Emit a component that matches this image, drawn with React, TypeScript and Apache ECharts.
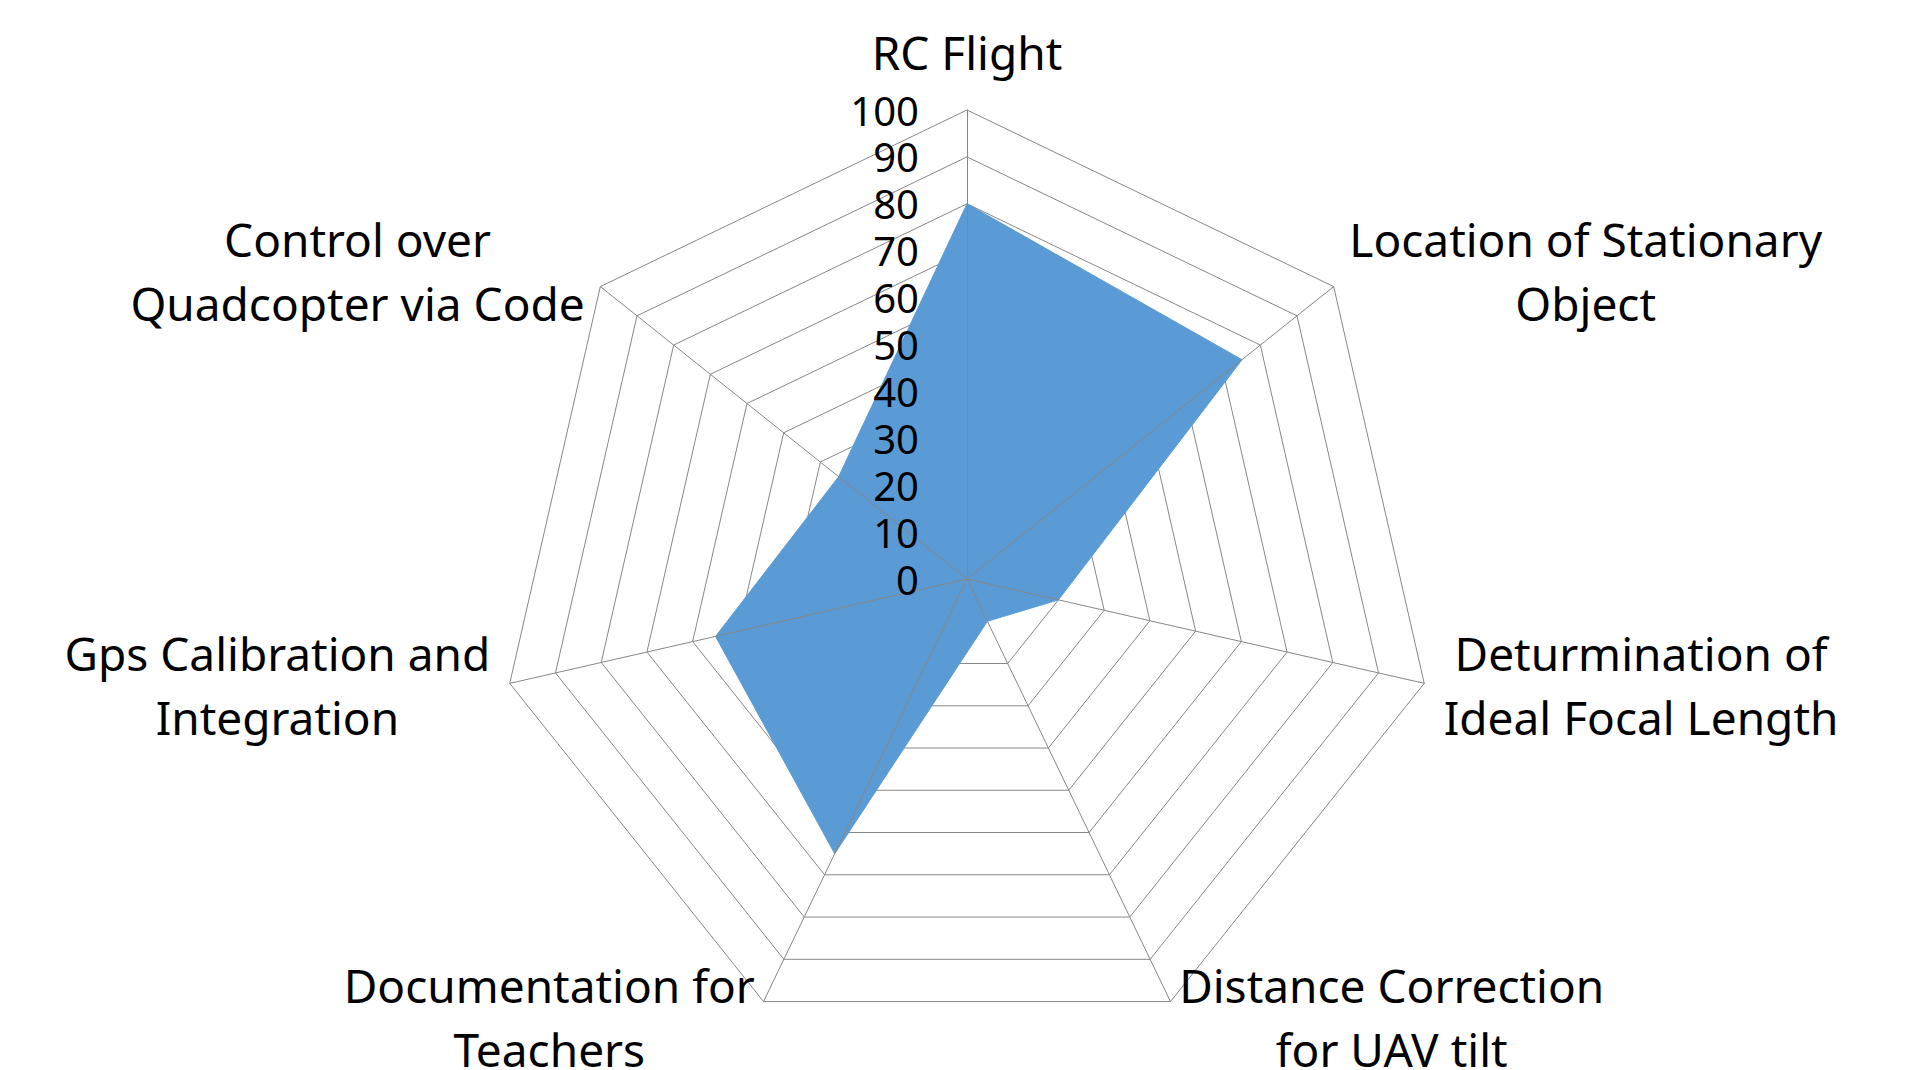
import React, { useEffect, useRef } from "react";
import * as echarts from "echarts";

// Categories in clockwise order starting from the top (as in the reference)
const categories: string[] = [
  "RC Flight",
  "Location of Stationary\nObject",
  "Deturmination of\nIdeal Focal Length",
  "Distance Correction\nfor UAV tilt",
  "Documentation for\nTeachers",
  "Gps Calibration and\nIntegration",
  "Control over\nQuadcopter via Code",
];
const values: number[] = [80, 75, 20, 10, 65, 55, 35];
const axisMin = 0;
const axisMax = 100;
const splitCount = 10;

const FONT = "Noto Sans";
const GRID = "#878787";
const FILL = "#5B9BD5";

// ECharts lays radar indicators counter-clockwise; reorder so they run clockwise.
function clockwiseOrder<T>(arr: T[]): T[] {
  return [arr[0], ...arr.slice(1).reverse()];
}

export default function App() {
  const ref = useRef<HTMLDivElement>(null);
  useEffect(() => {
    if (!ref.current) return;
    const chart = echarts.init(ref.current, undefined, { renderer: "svg" });
    const cats = clockwiseOrder(categories);
    const vals = clockwiseOrder(values);
    const center = [967, 579];
    const radius = 469;

    const baseIndicators = cats.map((c) => ({ name: c, min: axisMin, max: axisMax }));

    chart.setOption({
      animation: false,
      backgroundColor: "#ffffff",
      radar: [
        {
          z: 1,
          center,
          radius,
          shape: "polygon",
          startAngle: 90,
          splitNumber: splitCount,
          indicator: baseIndicators,
          axisName: { show: false },
          axisLine: { show: false },
          axisTick: { show: false },
          axisLabel: { show: false },
          splitLine: { show: true, lineStyle: { color: GRID, width: 1 } },
          splitArea: { show: false },
        },
        {
          z: 3,
          center,
          radius,
          shape: "polygon",
          startAngle: 90,
          splitNumber: splitCount,
          indicator: baseIndicators.map((ind, i) =>
            i === 0 ? { ...ind, axisLabel: { show: true } } : { ...ind }
          ),
          nameGap: 20,
          axisName: {
            show: true,
            color: "#000",
            fontFamily: FONT,
            fontSize: 46,
            lineHeight: 64,
            padding: [0, 0, 6, 0],
            formatter: (name: string) =>
              name
                .split("\n")
                .map((l) => `{c|${l}}`)
                .join("\n"),
            rich: {
              c: {
                align: "center",
                color: "#000",
                fontFamily: FONT,
                fontSize: 46,
                lineHeight: 64,
              },
            },
          },
          axisLine: { show: true, lineStyle: { color: GRID, width: 1 } },
          axisTick: { show: false },
          axisLabel: {
            show: false,
            color: "#000",
            fontFamily: FONT,
            fontSize: 40,
            margin: 48,
            showMinLabel: true,
            showMaxLabel: true,
          },
          splitLine: { show: false },
          splitArea: { show: false },
        },
      ],
      series: [
        {
          type: "radar",
          radarIndex: 0,
          z: 2,
          symbol: "none",
          lineStyle: { color: FILL, width: 1 },
          areaStyle: { color: FILL, opacity: 1 },
          data: [{ value: vals, name: "Score" }],
        },
      ],
    });
    return () => chart.dispose();
  }, []);
  return (
    <div
      ref={ref}
      style={{ position: "fixed", left: 0, top: 0, width: 1908, height: 1070, background: "#fff" }}
    />
  );
}
